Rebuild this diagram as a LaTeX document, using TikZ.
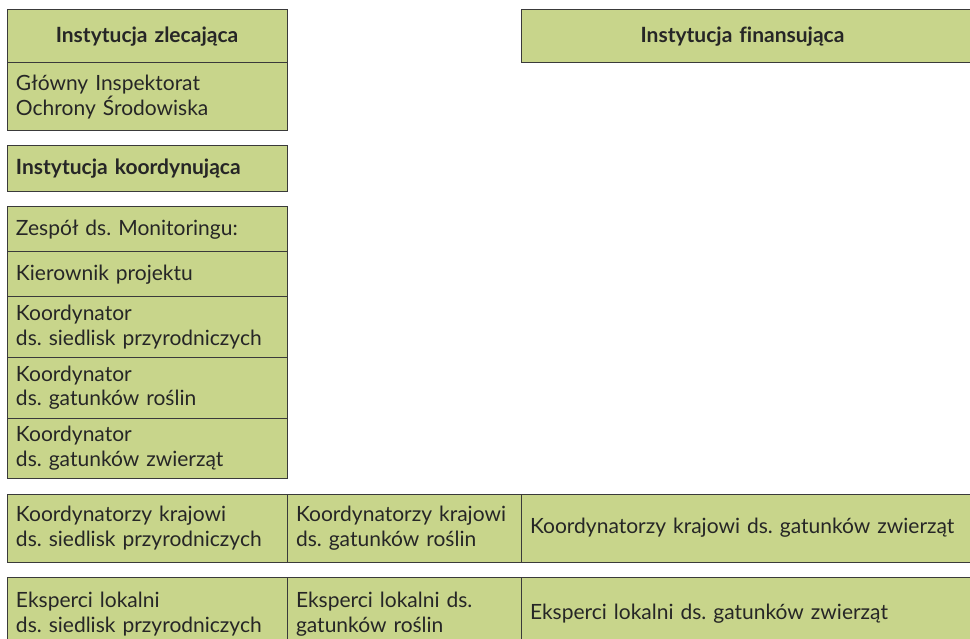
\documentclass[tikz,border=0pt]{standalone}
\usepackage{fontspec}
\setmainfont[Ligatures=NoCommon]{Lato}
\frenchspacing
\usetikzlibrary{positioning}
\definecolor{boxgreen}{HTML}{C8D58B}
\definecolor{boxline}{HTML}{3A3A3A}
\tikzset{
  cell/.style={draw=boxline, line width=1pt, fill=boxgreen, rectangle, outer sep=0pt,
    inner xsep=9pt, inner ysep=0pt, align=left, text=black!85,
    font=\fontsize{21}{24.5}\selectfont},
  leftcell/.style={cell, text width=262pt, minimum width=280pt},
  midcell/.style={cell, text width=216pt, minimum width=234pt},
  widecell/.style={cell, text width=451pt, minimum width=469pt},
  head/.style={font=\fontsize{21}{24.5}\selectfont\bfseries},
}
\begin{document}
\begin{tikzpicture}[x=1pt,y=-1pt]
		\useasboundingbox (0,0) rectangle (970,639);
		\clip (0,0) rectangle (970,639);
		\node (zlec) [leftcell, head, align=center, minimum height=53pt, anchor=north west] at (7,10) {Instytucja zlecająca};
		\node (gios) [leftcell, minimum height=68pt, below=0pt of zlec] {Główny Inspektorat\\Ochrony Środowiska};
		\node (koord) [leftcell, head, minimum height=46pt, below=15pt of gios] {Instytucja koordynująca};
		\node (zesp) [leftcell, minimum height=45pt, below=15pt of koord] {Zespół ds. Monitoringu:};
		\node (kier) [leftcell, minimum height=45pt, below=0pt of zesp] {Kierownik projektu};
		\node (ksied) [leftcell, minimum height=60pt, below=0pt of kier] {Koordynator\\ds. siedlisk przyrodniczych};
		\node (kros) [leftcell, minimum height=61pt, below=0pt of ksied] {Koordynator\\ds. gatunków roślin};
		\node (kzw) [leftcell, minimum height=60pt, below=0pt of kros] {Koordynator\\ds. gatunków zwierząt};
		\node (krsied) [leftcell, minimum height=68pt, below=16pt of kzw] {Koordynatorzy krajowi\\ds. siedlisk przyrodniczych};
		\node (krros) [midcell, minimum height=68pt, right=0pt of krsied] {Koordynatorzy krajowi\\ds. gatunków roślin};
		\node (krzw) [widecell, minimum height=68pt, right=0pt of krros] {Koordynatorzy krajowi ds. gatunków zwierząt};
		\node (elsied) [leftcell, minimum height=74pt, below=15pt of krsied] {Eksperci lokalni\\ds. siedlisk przyrodniczych};
		\node (elros) [midcell, minimum height=74pt, right=0pt of elsied] {Eksperci lokalni ds.\\gatunków roślin};
		\node (elzw) [widecell, minimum height=74pt, right=0pt of elros] {Eksperci lokalni ds. gatunków zwierząt};
		\node (fin) [widecell, head, align=center, minimum height=53pt, anchor=north west] at (521,10) {Instytucja finansująca\hspace*{26pt}};
\end{tikzpicture}
\end{document}
